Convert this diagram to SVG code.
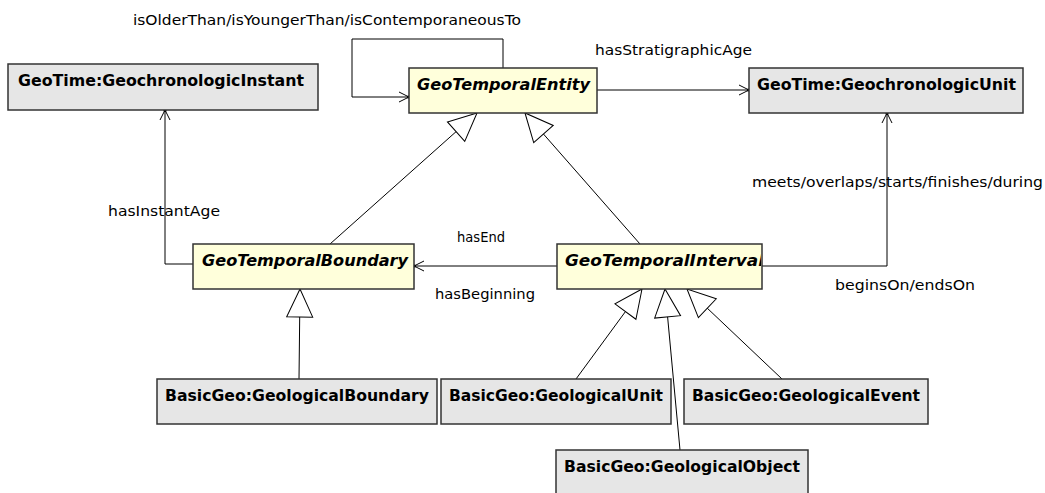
<svg xmlns="http://www.w3.org/2000/svg" width="1045" height="493" viewBox="0 0 1045 493">
<style>
  .grey rect { fill: #e6e6e6; stroke: #333; stroke-width: 1.5; }
  .yellow rect { fill: #ffffdb; stroke: #333; stroke-width: 1.5; }
  .bl { font-family: "DejaVu Sans", sans-serif; font-weight: bold; font-size: 15.5px; fill: #000; }
  .it { font-family: "DejaVu Sans", sans-serif; font-weight: bold; font-style: italic; font-size: 15.5px; fill: #000; }
  .lb { font-family: "DejaVu Sans", sans-serif; font-size: 14px; fill: #000; }
  .ln { fill: none; stroke: #000; stroke-width: 1; }
  .arr { marker-end: url(#open); }
  .gen { marker-end: url(#tri); }
</style>
<defs>
  <marker id="open" markerUnits="userSpaceOnUse" markerWidth="14" markerHeight="14" refX="11" refY="6" orient="auto" overflow="visible">
    <path d="M1,1 L11,6 L1,11" fill="none" stroke="#000" stroke-width="1"/>
    <circle cx="10.5" cy="6" r="1.5" fill="#000"/>
  </marker>
  <marker id="tri" markerUnits="userSpaceOnUse" markerWidth="32" markerHeight="30" refX="29" refY="14" orient="auto" overflow="visible">
    <path d="M29,14 L1,1 L1,27 Z" fill="#fff" stroke="#000" stroke-width="1"/>
  </marker>
  <clipPath id="clipInterval"><rect x="558" y="245" width="203" height="43"/></clipPath>
</defs>

<g id="connectors">
  <path class="ln arr" d="M503,68 V39 H352 V97 H409"/>
  <path class="ln arr" d="M597,90 H749"/>
  <path class="ln arr" d="M762,266 H887 V113"/>
  <path class="ln arr" d="M557,266 H414"/>
  <path class="ln arr" d="M193,264 H165 V110"/>
  <path class="ln gen" d="M330,244 L477,113"/>
  <path class="ln gen" d="M640,244 L525,113"/>
  <path class="ln gen" d="M299,379 L300,289"/>
  <path class="ln gen" d="M576,379 L642,289"/>
  <path class="ln gen" d="M782,379 L687,289"/>
  <path class="ln gen" d="M680,450 L665,289"/>
  <text class="lb" x="133" y="25" textLength="388" lengthAdjust="spacingAndGlyphs">isOlderThan/isYoungerThan/isContemporaneousTo</text>
  <text class="lb" x="595" y="55" textLength="157" lengthAdjust="spacingAndGlyphs">hasStratigraphicAge</text>
  <text class="lb" x="752" y="187" textLength="291" lengthAdjust="spacingAndGlyphs">meets/overlaps/starts/finishes/during</text>
  <text class="lb" x="108" y="216" textLength="112" lengthAdjust="spacingAndGlyphs">hasInstantAge</text>
  <text class="lb" x="457" y="242" textLength="48" lengthAdjust="spacingAndGlyphs">hasEnd</text>
  <text class="lb" x="435" y="299" textLength="100" lengthAdjust="spacingAndGlyphs">hasBeginning</text>
  <text class="lb" x="835" y="290" textLength="140" lengthAdjust="spacingAndGlyphs">beginsOn/endsOn</text>
</g>

<g id="GeochronologicInstant" class="grey">
  <rect x="8" y="64" width="310" height="46"/>
  <text class="bl" x="18" y="86" textLength="286" lengthAdjust="spacingAndGlyphs">GeoTime:GeochronologicInstant</text>
</g>
<g id="GeoTemporalEntity" class="yellow">
  <rect x="409" y="68" width="188" height="45"/>
  <text class="it" x="417" y="90" textLength="173" lengthAdjust="spacingAndGlyphs">GeoTemporalEntity</text>
</g>
<g id="GeochronologicUnit" class="grey">
  <rect x="749" y="68" width="274" height="45"/>
  <text class="bl" x="757" y="90" textLength="259" lengthAdjust="spacingAndGlyphs">GeoTime:GeochronologicUnit</text>
</g>
<g id="GeoTemporalBoundary" class="yellow">
  <rect x="193" y="244" width="221" height="45"/>
  <text class="it" x="202" y="266" textLength="206" lengthAdjust="spacingAndGlyphs">GeoTemporalBoundary</text>
</g>
<g id="GeoTemporalInterval" class="yellow">
  <rect x="557" y="244" width="205" height="45"/>
  <text class="it" x="565" y="266" textLength="199" lengthAdjust="spacingAndGlyphs" clip-path="url(#clipInterval)">GeoTemporalInterval</text>
</g>
<g id="GeologicalBoundary" class="grey">
  <rect x="157" y="379" width="280" height="45"/>
  <text class="bl" x="165" y="401" textLength="264" lengthAdjust="spacingAndGlyphs">BasicGeo:GeologicalBoundary</text>
</g>
<g id="GeologicalUnit" class="grey">
  <rect x="441" y="379" width="230" height="45"/>
  <text class="bl" x="449" y="401" textLength="214" lengthAdjust="spacingAndGlyphs">BasicGeo:GeologicalUnit</text>
</g>
<g id="GeologicalEvent" class="grey">
  <rect x="684" y="379" width="244" height="45"/>
  <text class="bl" x="692" y="401" textLength="228" lengthAdjust="spacingAndGlyphs">BasicGeo:GeologicalEvent</text>
</g>
<g id="GeologicalObject" class="grey">
  <rect x="556" y="450" width="252" height="45"/>
  <text class="bl" x="564" y="472" textLength="236" lengthAdjust="spacingAndGlyphs">BasicGeo:GeologicalObject</text>
</g>
</svg>
